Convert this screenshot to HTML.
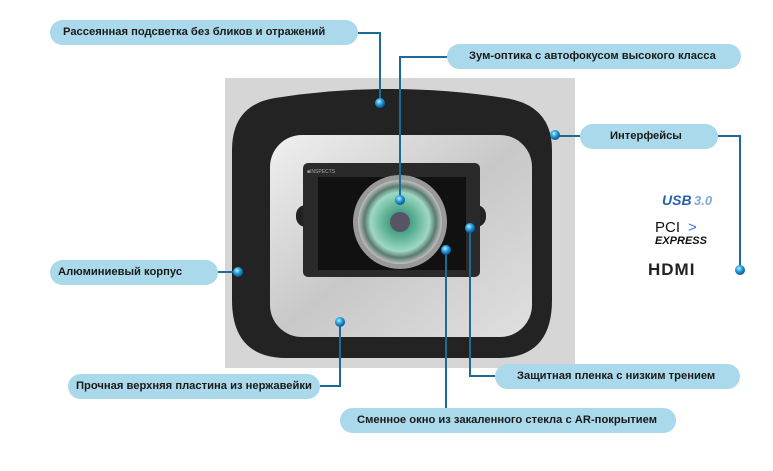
<!DOCTYPE html>
<html><head><meta charset="utf-8"><style>
body{margin:0;width:773px;height:471px;background:#fff;position:relative;overflow:hidden;font-family:"Liberation Sans",sans-serif}
.l{position:absolute;height:25px;line-height:25px;background:#a9d9ea;border-radius:13px;font-size:11.2px;font-weight:bold;color:#1a1a1a;text-align:left;padding-left:13px;box-sizing:border-box;white-space:nowrap}
</style></head><body>
<svg width="773" height="471" style="position:absolute;left:0;top:0">
<defs>
<radialGradient id="dot" cx="40%" cy="35%" r="60%"><stop offset="0" stop-color="#bfefff"/><stop offset=".5" stop-color="#2aa3e0"/><stop offset="1" stop-color="#0a5d99"/></radialGradient>
<linearGradient id="steel" x1="0" y1="0" x2="1" y2="1"><stop offset="0" stop-color="#f0f0f0"/><stop offset=".5" stop-color="#c8c8c8"/><stop offset="1" stop-color="#e0e0e0"/></linearGradient>
<radialGradient id="lens" cx="50%" cy="50%" r="50%"><stop offset="0" stop-color="#5a6a80"/><stop offset=".3" stop-color="#4fa98a"/><stop offset=".7" stop-color="#9fd8c4"/><stop offset=".85" stop-color="#5a7a70"/><stop offset="1" stop-color="#c0c0c0"/></radialGradient>
</defs>
<rect x="225" y="78" width="350" height="290" fill="#d6d6d6"/>
<path d="M232,150 Q232,105 275,98 Q390,80 505,98 Q552,105 552,150 L552,300 Q552,357 500,358 L285,358 Q232,357 232,300 Z" fill="#232323"/>
<rect x="270" y="135" width="262" height="202" rx="32" fill="url(#steel)"/>
<rect x="296" y="205" width="190" height="22" rx="10" fill="#222"/>
<rect x="303" y="163" width="177" height="114" rx="5" fill="#2a2a2a"/>
<rect x="318" y="177" width="148" height="93" fill="#111"/>
<text x="307" y="173" font-size="5" fill="#aaa" font-family="Liberation Sans">■INSPECTS</text>
<circle cx="400" cy="222" r="47" fill="#999"/>
<circle cx="400" cy="222" r="42" fill="url(#lens)"/>
<circle cx="400" cy="222" r="10" fill="#556"/>
<g stroke="#1a6a9a" stroke-width="2" fill="none">
<polyline points="358,33 380,33 380,103"/>
<polyline points="447,57 400,57 400,200"/>
<polyline points="580,136 555,136"/>
<polyline points="718,136 740,136 740,270"/>
<polyline points="218,272 238,272"/>
<polyline points="320,386 340,386 340,322"/>
<polyline points="495,376 470,376 470,228"/>
<polyline points="446,250 446,408"/>
</g>
<g fill="url(#dot)">
<circle cx="380" cy="103" r="5"/><circle cx="400" cy="200" r="5"/><circle cx="555" cy="135" r="5"/>
<circle cx="740" cy="270" r="5"/><circle cx="238" cy="272" r="5"/><circle cx="340" cy="322" r="5"/>
<circle cx="470" cy="228" r="5"/><circle cx="446" cy="250" r="5"/>
</g>
<text x="662" y="205" font-size="14" font-weight="bold" font-style="italic" fill="#2a5fb0" font-family="Liberation Sans">USB</text>
<text x="694" y="205" font-size="13" font-weight="bold" font-style="italic" fill="#7fa8d8" font-family="Liberation Sans">3.0</text>
<text x="655" y="232" font-size="15" fill="#111" font-family="Liberation Sans">PCI</text>
<text x="688" y="232" font-size="15" fill="#3a7ad0" font-family="Liberation Sans">&gt;</text>
<text x="655" y="244" font-size="11" font-weight="bold" font-style="italic" fill="#111" font-family="Liberation Sans">EXPRESS</text>
<text x="648" y="275" font-size="17" font-weight="bold" fill="#222" font-family="Liberation Sans" letter-spacing="1">HDMI</text>
</svg>
<div class="l" style="left:50px;top:20px;width:308px">Рассеянная подсветка без бликов и отражений</div>
<div class="l" style="left:447px;top:44px;width:294px;padding-left:22px">Зум-оптика с автофокусом высокого класса</div>
<div class="l" style="left:580px;top:124px;width:138px;padding-left:30px">Интерфейсы</div>
<div class="l" style="left:50px;top:260px;width:168px;padding-left:8px">Алюминиевый корпус</div>
<div class="l" style="left:68px;top:374px;width:252px;padding-left:8px">Прочная верхняя пластина из нержавейки</div>
<div class="l" style="left:495px;top:364px;width:245px;padding-left:22px">Защитная пленка с низким трением</div>
<div class="l" style="left:340px;top:408px;width:336px;padding-left:17px">Сменное окно из закаленного стекла с AR-покрытием</div>
</body></html>
